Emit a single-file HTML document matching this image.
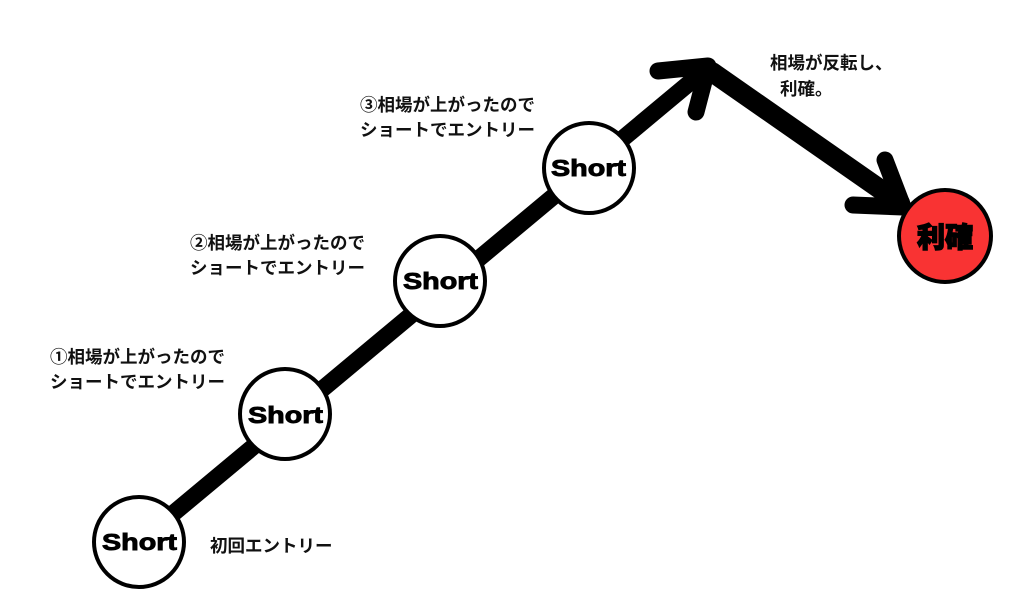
<!DOCTYPE html>
<html><head><meta charset="utf-8"><style>
html,body{margin:0;padding:0;background:#fff;}
body{width:1024px;height:607px;overflow:hidden;position:relative;}
svg{position:absolute;left:0;top:0;}
text{font-family:"Liberation Sans","Noto Sans CJK JP",sans-serif;}
.j{font-size:17.5px;font-weight:bold;fill:#111;}
.s{font-size:23px;font-weight:900;fill:#000;stroke:#000;stroke-width:0.9px;}
</style></head><body>
<svg width="1024" height="607" viewBox="0 0 1024 607">
<g stroke="#000" stroke-linecap="round" stroke-linejoin="round" fill="none">
<line x1="139" y1="542" x2="705" y2="70" stroke-width="17"/>
<polyline points="658,71 708,66 696,112" stroke-width="17"/>
<line x1="712" y1="72" x2="900" y2="203" stroke-width="20"/>
<polyline points="885,160 903,207 853,205" stroke-width="17"/>
</g>
<g stroke="#000" stroke-width="4" fill="#fff">
<circle cx="139" cy="542" r="45"/>
<circle cx="285" cy="414" r="45"/>
<circle cx="440" cy="281" r="45"/>
<circle cx="589" cy="168" r="45"/>
<circle cx="945" cy="236" r="46" fill="#f93333"/>
</g>
<g class="s">
<text x="102" y="550" textLength="75" lengthAdjust="spacingAndGlyphs">Short</text>
<text x="248" y="423" textLength="75" lengthAdjust="spacingAndGlyphs">Short</text>
<text x="403" y="289" textLength="75" lengthAdjust="spacingAndGlyphs">Short</text>
<text x="551" y="176" textLength="75" lengthAdjust="spacingAndGlyphs">Short</text>
<text x="945" y="247" text-anchor="middle" style="font-size:28px;font-weight:900;stroke:#000;stroke-width:1.4px">利確</text>
</g>
<text x="50" y="363" class="j">①相場が上がったので</text>
<text x="50" y="388" class="j">ショートでエントリー</text>
<text x="190" y="249" class="j">②相場が上がったので</text>
<text x="190" y="274" class="j">ショートでエントリー</text>
<text x="360" y="111" class="j">③相場が上がったので</text>
<text x="360" y="136" class="j">ショートでエントリー</text>
<text x="770" y="69" class="j">相場が反転し、</text>
<text x="780" y="95" class="j">利確。</text>
<text x="210" y="552" class="j">初回エントリー</text>
</svg>
</body></html>
